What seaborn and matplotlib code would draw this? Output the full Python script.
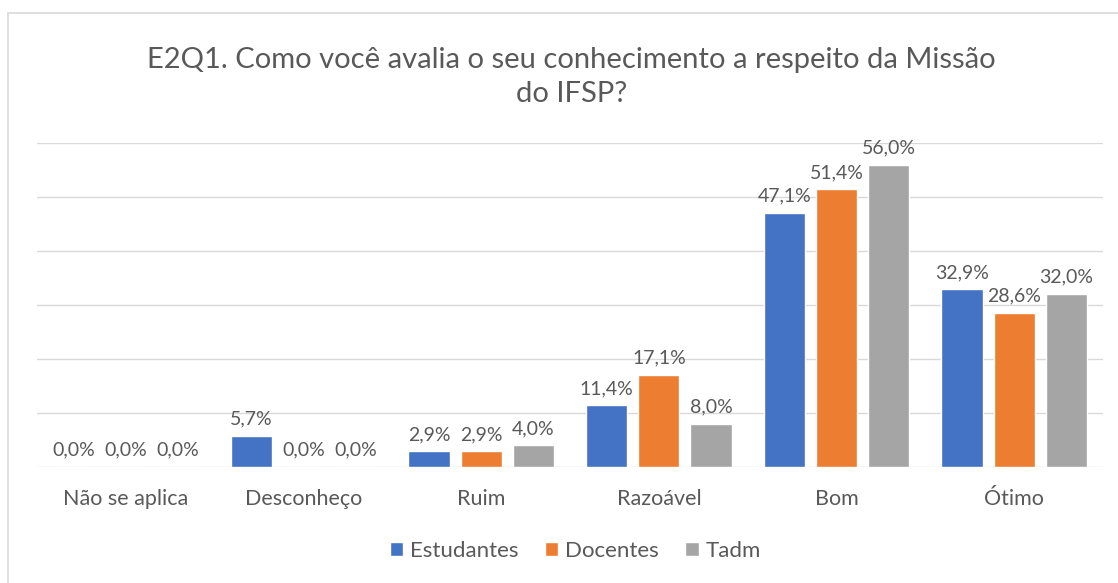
import pandas as pd
import matplotlib.pyplot as plt
import seaborn as sns
from matplotlib.patches import Rectangle

# ==========================================================
# DATA
# ==========================================================
categorias = ["Não se aplica", "Desconheço", "Ruim", "Razoável", "Bom", "Ótimo"]
grupos = ["Estudantes", "Docentes", "Tadm"]
estudantes = [0.0, 5.7, 2.9, 11.4, 47.1, 32.9]
docentes = [0.0, 0.0, 2.9, 17.1, 51.4, 28.6]
tadm = [0.0, 0.0, 4.0, 8.0, 56.0, 32.0]

cores = ["#4472C4", "#ED7D31", "#A5A5A5"]
texto = "#595959"

df = pd.DataFrame({
    "Categoria": categorias * 3,
    "Grupo": [g for g in grupos for _ in categorias],
    "Valor": estudantes + docentes + tadm,
})

# ==========================================================
# CHART
# ==========================================================
sns.set_style("white")
plt.rcParams["font.family"] = ["Lato", "DejaVu Sans"]

fig = plt.figure(figsize=(11.18, 5.83), dpi=100)
ax = fig.add_axes([0.0331, 0.199, 0.9535, 0.5557])

# outer chart border (Excel frame)
fig.patches.append(Rectangle((8 / 1118, -0.2), 1.2, 1.2 - 13 / 583,
                             transform=fig.transFigure, fill=False,
                             edgecolor="#D9D9D9", linewidth=1.2))

sns.barplot(data=df, x="Categoria", y="Valor", hue="Grupo",
            palette=cores, width=0.88, gap=0.21, ax=ax,
            saturation=1, legend=True)

ax.set_ylim(0, 60)
ax.set_yticks(range(0, 61, 10))
ax.yaxis.grid(True, color="#D9D9D9", linewidth=1)
ax.set_axisbelow(True)
ax.tick_params(axis="y", left=False, labelleft=False)
ax.tick_params(axis="x", bottom=False, labelsize=15.5, colors=texto, pad=12)
ax.set_xlabel("")
ax.set_ylabel("")
for s in ax.spines.values():
    s.set_visible(False)

for cont in ax.containers:
    ax.bar_label(cont, labels=[f"{v:.1f}".replace(".", ",") + "%" for v in cont.datavalues],
                 padding=6, fontsize=14, color=texto)

fig.text(0.511, 0.868, "E2Q1. Como você avalia o seu conhecimento a respeito da Missão\ndo IFSP?",
         ha="center", va="center", fontsize=21, color=texto, linespacing=1.38)

ax.legend(loc="center", bbox_to_anchor=(0.505, -0.259), ncol=3, frameon=False,
          fontsize=16, labelcolor=texto, handlelength=0.6, handleheight=0.6,
          handletextpad=0.3, columnspacing=1.2)

fig.savefig("out.png", dpi=100)
